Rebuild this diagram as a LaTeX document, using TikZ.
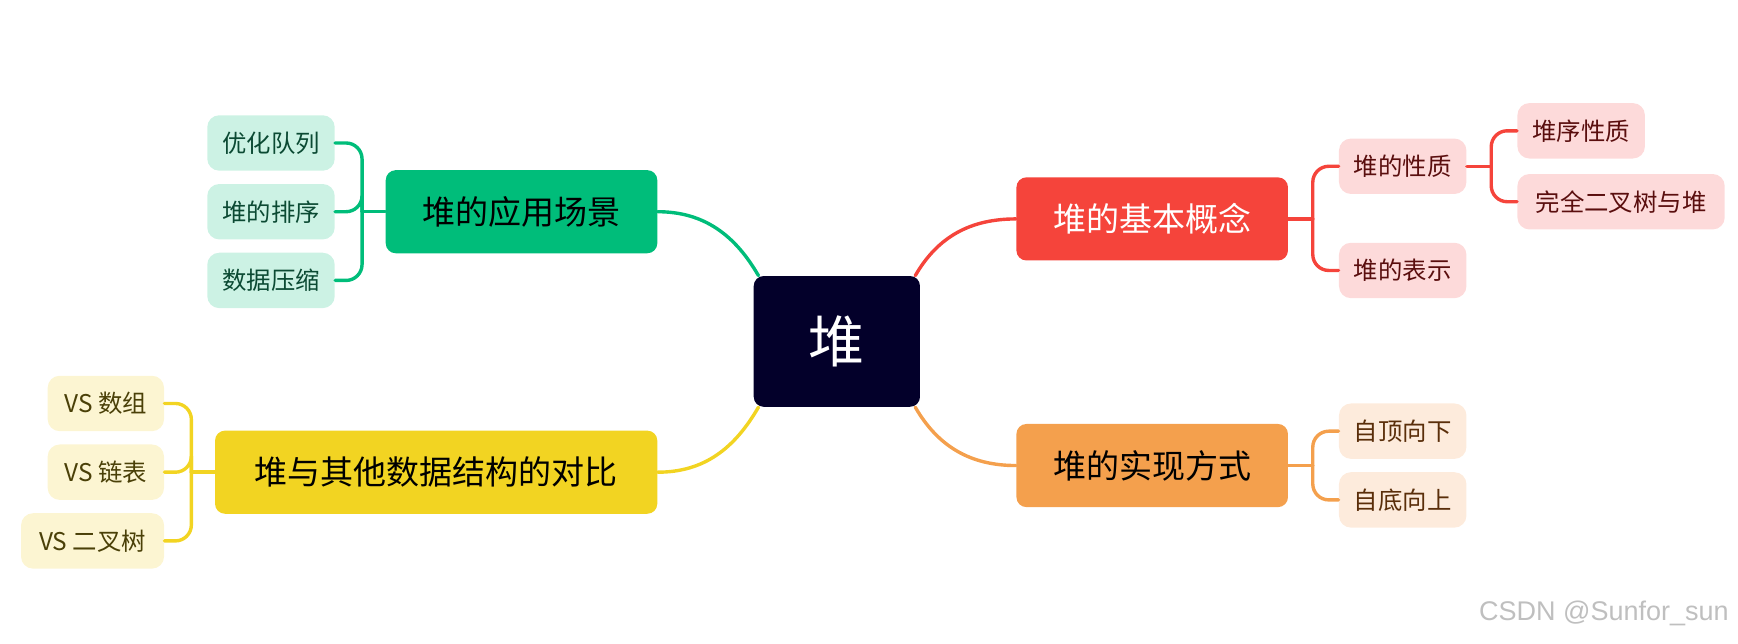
\documentclass[tikz,border=0pt]{standalone}
\usepackage{fontspec}
\setmainfont{Noto Sans CJK SC}
\usetikzlibrary{calc}
\definecolor{cnavy}{HTML}{03002A}
\definecolor{cred}{HTML}{F5443B}
\definecolor{corange}{HTML}{F4A04D}
\definecolor{cgreen}{HTML}{00BD7A}
\definecolor{cyellow}{HTML}{F2D422}
\definecolor{lred}{HTML}{FDDADA}
\definecolor{lorange}{HTML}{FDEBDC}
\definecolor{lgreen}{HTML}{CCF2E4}
\definecolor{lyellow}{HTML}{FCF5D2}
\definecolor{tred}{HTML}{5A0E0E}
\definecolor{torange}{HTML}{5A2E0A}
\definecolor{tgreen}{HTML}{0B4A33}
\definecolor{tyellow}{HTML}{4A4008}
\begin{document}
\begin{tikzpicture}[x=0.5542pt,y=-0.5542pt,
  main/.style={rounded corners=5pt,minimum height={75*0.5542pt},inner sep=0pt,font=\fontsize{16.5}{18}\selectfont},
  leaf/.style={rounded corners=6pt,minimum height={50*0.5542pt},inner sep=0pt,font=\fontsize{12.2}{14}\selectfont},
  conn/.style={line width=1.7pt,line cap=round}]
\useasboundingbox (0,0) rectangle (1568,581);
% center
\node[fill=cnavy,rounded corners=5pt,minimum width={150*0.5542pt},minimum height={118*0.5542pt},text=white,font=\fontsize{28}{30}\selectfont] (c) at (755,308) {堆};
% main branches
\node[main,fill=cred,text=white,minimum width={245*0.5542pt}] (r) at (1039.5,197.5) {堆的基本概念};
\node[main,fill=corange,minimum width={245*0.5542pt}] (o) at (1039.5,420) {堆的实现方式};
\node[main,fill=cgreen,minimum width={245*0.5542pt}] (g) at (470.5,191) {堆的应用场景};
\node[main,fill=cyellow,minimum width={399*0.5542pt}] (y) at (393.5,426) {堆与其他数据结构的对比};
% leaves red
\node[leaf,fill=lred,text=tred,minimum width={115*0.5542pt}] (r1) at (1265.5,150) {堆的性质};
\node[leaf,fill=lred,text=tred,minimum width={115*0.5542pt}] (r2) at (1265.5,244) {堆的表示};
\node[leaf,fill=lred,text=tred,minimum width={115*0.5542pt}] (r11) at (1426.5,118) {堆序性质};
\node[leaf,fill=lred,text=tred,minimum width={187*0.5542pt}] (r12) at (1462.5,182) {完全二叉树与堆};
% leaves orange
\node[leaf,fill=lorange,text=torange,minimum width={115*0.5542pt}] (o1) at (1265.5,389) {自顶向下};
\node[leaf,fill=lorange,text=torange,minimum width={115*0.5542pt}] (o2) at (1265.5,451) {自底向上};
% leaves green
\node[leaf,fill=lgreen,text=tgreen,minimum width={115*0.5542pt}] (g1) at (244.5,129) {优化队列};
\node[leaf,fill=lgreen,text=tgreen,minimum width={115*0.5542pt}] (g2) at (244.5,191) {堆的排序};
\node[leaf,fill=lgreen,text=tgreen,minimum width={115*0.5542pt}] (g3) at (244.5,253) {数据压缩};
% leaves yellow
\node[leaf,fill=lyellow,text=tyellow,minimum width={105*0.5542pt}] (y1) at (95.5,364) {VS 数组};
\node[leaf,fill=lyellow,text=tyellow,minimum width={105*0.5542pt}] (y2) at (95.5,426) {VS 链表};
\node[leaf,fill=lyellow,text=tyellow,minimum width={129*0.5542pt}] (y3) at (83.5,488) {VS 二叉树};
% center connectors
\draw[conn,cred] (c.40) to[out=60,in=180] (r.west);
\draw[conn,corange] (c.-40) to[out=-60,in=180] (o.west);
\draw[conn,cgreen] (c.140) to[out=120,in=0] (g.east);
\draw[conn,cyellow] (c.-140) to[out=-120,in=0] (y.east);
% brackets
\draw[conn,cred] (r.east) -- ++(22,0);
\draw[conn,cred,rounded corners=8pt] ($(r.east)+(22,0)$) |- (r1.west);
\draw[conn,cred,rounded corners=8pt] ($(r.east)+(22,0)$) |- (r2.west);
\draw[conn,cred] (r1.east) -- ++(22,0);
\draw[conn,cred,rounded corners=8pt] ($(r1.east)+(22,0)$) |- (r11.west);
\draw[conn,cred,rounded corners=8pt] ($(r1.east)+(22,0)$) |- (r12.west);
\draw[conn,corange] (o.east) -- ++(22,0);
\draw[conn,corange,rounded corners=8pt] ($(o.east)+(22,0)$) |- (o1.west);
\draw[conn,corange,rounded corners=8pt] ($(o.east)+(22,0)$) |- (o2.west);
\draw[conn,cgreen] (g.west) -- ++(-21,0);
\draw[conn,cgreen,rounded corners=8pt] ($(g.west)+(-21,0)$) |- (g1.east);
\draw[conn,cgreen,rounded corners=8pt] ($(g.west)+(-21,0)$) |- (g2.east);
\draw[conn,cgreen,rounded corners=8pt] ($(g.west)+(-21,0)$) |- (g3.east);
\draw[conn,cyellow] (y.west) -- ++(-21,0);
\draw[conn,cyellow,rounded corners=8pt] ($(y.west)+(-21,0)$) |- (y1.east);
\draw[conn,cyellow,rounded corners=8pt] ($(y.west)+(-21,0)$) |- (y2.east);
\draw[conn,cyellow,rounded corners=8pt] ($(y.west)+(-21,0)$) |- (y3.east);
% watermark
\node[text=black!25,font=\fontspec{Liberation Sans}\fontsize{13.5}{15}\selectfont,anchor=east] (wm) at (1566,553) {CSDN @Sunfor\_sun};
\end{tikzpicture}
\end{document}
